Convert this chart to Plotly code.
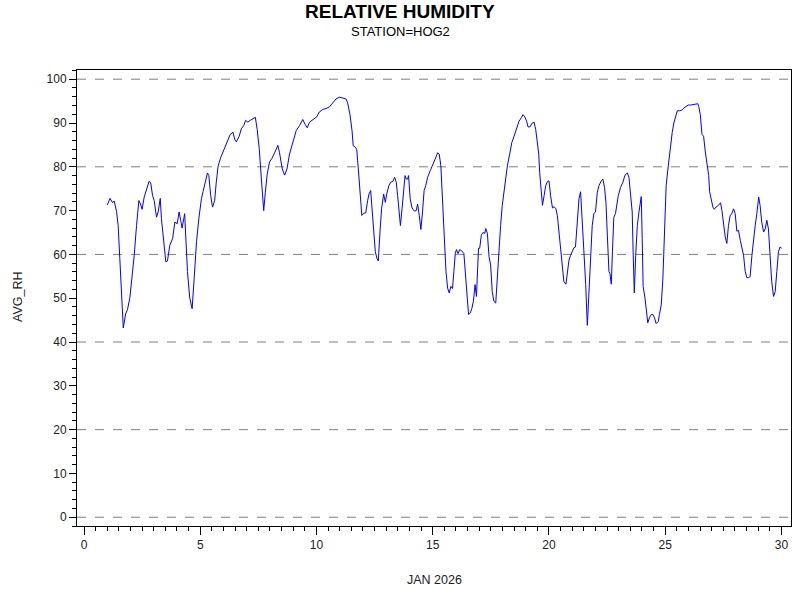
import plotly.graph_objects as go

day = [
    1.00, 1.12, 1.23, 1.30, 1.40, 1.47, 1.54, 1.62, 1.69, 1.79, 1.87, 1.97, 2.07, 2.16, 2.26, 2.36, 2.43, 2.50,
    2.59, 2.69, 2.80, 2.87, 2.95, 3.02, 3.12, 3.19, 3.28, 3.33, 3.43, 3.52, 3.59, 3.69, 3.81, 3.91, 4.01, 4.09,
    4.16, 4.22, 4.33, 4.45, 4.55, 4.65, 4.74, 4.84, 4.94, 4.98, 5.05, 5.12, 5.22, 5.31, 5.37, 5.45, 5.53, 5.62,
    5.69, 5.77, 5.88, 5.98, 6.08, 6.19, 6.29, 6.41, 6.48, 6.55, 6.67, 6.77, 6.87, 6.95, 7.05, 7.15, 7.27, 7.37,
    7.45, 7.54, 7.63, 7.73, 7.80, 7.88, 7.98, 8.08, 8.20, 8.34, 8.41, 8.53, 8.63, 8.73, 8.84, 8.99, 9.13, 9.27,
    9.41, 9.51, 9.60, 9.70, 9.81, 9.91, 10.01, 10.12, 10.27, 10.41, 10.56, 10.70, 10.84, 10.99, 11.13, 11.27,
    11.34, 11.44, 11.53, 11.58, 11.67, 11.73, 11.80, 11.89, 11.95, 12.03, 12.12, 12.20, 12.26, 12.33, 12.39,
    12.46, 12.53, 12.60, 12.66, 12.73, 12.80, 12.89, 12.96, 13.03, 13.12, 13.20, 13.29, 13.36, 13.43, 13.49,
    13.55, 13.61, 13.68, 13.75, 13.81, 13.86, 13.92, 13.96, 14.03, 14.11, 14.21, 14.29, 14.35, 14.42, 14.49,
    14.56, 14.63, 14.70, 14.78, 14.89, 14.99, 15.09, 15.21, 15.28, 15.35, 15.42, 15.49, 15.57, 15.64, 15.71,
    15.78, 15.85, 15.91, 15.97, 16.02, 16.09, 16.16, 16.25, 16.34, 16.39, 16.46, 16.54, 16.61, 16.68, 16.75,
    16.82, 16.88, 16.92, 16.97, 17.02, 17.09, 17.16, 17.24, 17.28, 17.35, 17.42, 17.49, 17.56, 17.63, 17.71,
    17.78, 17.85, 17.92, 17.99, 18.06, 18.14, 18.21, 18.31, 18.40, 18.50, 18.61, 18.71, 18.81, 18.88, 18.96,
    19.04, 19.10, 19.18, 19.28, 19.36, 19.43, 19.50, 19.56, 19.60, 19.66, 19.72, 19.79, 19.86, 19.93, 20.00,
    20.07, 20.15, 20.22, 20.30, 20.36, 20.43, 20.50, 20.57, 20.64, 20.73, 20.79, 20.86, 20.93, 21.00, 21.07,
    21.14, 21.22, 21.29, 21.36, 21.43, 21.50, 21.58, 21.65, 21.72, 21.79, 21.86, 21.93, 22.00, 22.08, 22.15,
    22.25, 22.32, 22.39, 22.45, 22.51, 22.58, 22.62, 22.68, 22.73, 22.79, 22.86, 22.98, 23.08, 23.18, 23.27,
    23.37, 23.44, 23.51, 23.58, 23.62, 23.67, 23.73, 23.80, 23.87, 23.93, 23.97, 24.01, 24.05, 24.13, 24.20,
    24.25, 24.32, 24.40, 24.47, 24.54, 24.61, 24.70, 24.75, 24.83, 24.90, 24.97, 25.04, 25.13, 25.23, 25.30,
    25.37, 25.45, 25.52, 25.62, 25.70, 25.80, 25.90, 25.99, 26.09, 26.19, 26.30, 26.40, 26.44, 26.51, 26.58,
    26.65, 26.72, 26.79, 26.87, 26.91, 26.98, 27.05, 27.11, 27.18, 27.25, 27.32, 27.38, 27.44, 27.51, 27.58,
    27.65, 27.72, 27.79, 27.87, 27.94, 28.01, 28.08, 28.15, 28.23, 28.30, 28.37, 28.44, 28.51, 28.58, 28.65,
    28.73, 28.80, 28.87, 28.94, 29.02, 29.08, 29.15, 29.23, 29.30, 29.37, 29.44, 29.51, 29.58, 29.66, 29.73,
    29.80, 29.87, 29.94, 30.01,
]

avg_rh = [
    71.3, 72.8, 71.8, 72.2, 69.8, 66.6, 59.1, 49.3, 43.2, 46.4, 47.4, 50.0, 54.6, 59.8, 66.6, 72.3, 71.5, 70.3,
    73.1, 74.9, 76.7, 76.3, 73.4, 72.3, 68.5, 69.7, 72.8, 68.2, 62.1, 58.3, 58.5, 62.1, 63.6, 67.4, 67.0, 69.7,
    67.8, 66.0, 69.3, 56.1, 50.0, 47.6, 54.6, 62.9, 68.2, 70.0, 72.7, 74.3, 76.5, 78.6, 78.0, 73.4, 70.8, 72.3,
    76.5, 80.2, 82.1, 83.4, 84.6, 86.3, 87.4, 87.9, 86.3, 85.7, 86.9, 88.7, 89.4, 90.6, 90.2, 90.6, 90.9, 91.3,
    88.5, 84.0, 77.2, 70.0, 74.2, 78.3, 81.1, 81.9, 83.2, 84.9, 83.2, 79.5, 78.1, 79.5, 82.9, 85.5, 88.3, 89.4,
    90.8, 89.7, 88.9, 90.2, 90.6, 90.9, 91.4, 92.5, 93.1, 93.3, 93.7, 94.6, 95.5, 95.9, 95.7, 95.5,
    94.6, 91.9, 88.2, 84.8, 84.5, 84.0, 79.5, 73.4, 68.9, 69.4, 69.5, 72.3, 73.8, 74.6, 70.4,
    65.1, 60.6, 59.1, 58.5, 65.1, 70.4, 73.8, 71.9, 74.0, 75.8, 76.5, 76.7, 77.6, 76.5, 73.4,
    68.9, 66.6, 70.4, 75.7, 78.0, 77.2, 77.2, 78.0, 72.7, 70.6, 69.9, 70.0, 71.5, 68.9, 65.7,
    69.7, 74.6, 75.7, 77.6, 79.1, 80.2, 81.6, 83.2, 82.9, 80.2, 71.9, 62.9, 56.1, 52.3, 51.2,
    52.7, 52.2, 56.1, 60.2, 61.1, 60.2, 61.1, 60.8, 60.2, 56.8, 51.5, 46.3, 46.6, 47.6, 49.3,
    53.1, 50.4, 56.1, 61.4, 61.4, 64.4, 65.0, 64.8, 65.9, 64.8, 59.5, 57.6, 51.5, 49.3, 48.9,
    55.3, 62.1, 66.6, 71.2, 74.2, 77.6, 80.2, 82.9, 85.5, 87.0, 88.9, 90.4, 91.2, 91.9, 91.4,
    90.4, 89.1, 89.1, 90.0, 90.2, 88.5, 85.5, 82.9, 78.7, 74.2, 71.2, 73.4, 75.7, 76.6, 76.8,
    73.4, 70.6, 70.9, 70.4, 68.9, 65.1, 61.4, 58.3, 53.8, 53.2, 56.1, 58.7, 59.8, 60.6, 61.5,
    61.7, 68.2, 72.7, 74.3, 68.2, 60.6, 53.1, 43.8, 51.5, 60.6, 66.6, 69.3, 69.7, 74.2, 75.7,
    76.8, 77.2, 75.3, 71.9, 64.4, 56.1, 55.7, 53.2, 60.6, 68.5, 69.3, 73.4, 75.3, 76.5, 78.1,
    78.6, 77.6, 74.2, 69.7, 60.6, 51.2, 59.8, 66.6, 69.7, 72.7, 73.2, 63.6, 52.7, 50.0, 46.3,
    44.4, 45.5, 46.3, 46.3, 45.5, 44.2, 44.7, 46.3, 48.5, 54.6, 65.9, 75.7, 80.2, 85.5, 87.8,
    90.0, 91.9, 92.8, 92.8, 92.9, 93.4, 93.8, 94.1, 94.1, 94.2, 94.3, 94.4, 93.8, 91.9, 87.4,
    87.0, 83.6, 80.6, 78.0, 74.3, 72.7, 70.8, 70.3, 70.8, 71.0, 71.5, 71.8, 70.0, 66.3, 64.0,
    62.5, 66.6, 68.8, 69.4, 70.4, 69.3, 65.3, 65.5, 63.2, 61.7, 59.8, 56.1, 54.7, 54.7, 54.9,
    59.8, 64.0, 66.6, 69.3, 73.1, 71.2, 67.4, 65.1, 65.8, 67.8, 65.8, 59.8, 53.8, 50.4, 51.5,
    56.1, 60.6, 61.7, 61.4,
]

x_ticks = [0, 5, 10, 15, 20, 25, 30]
y_ticks = [0, 10, 20, 30, 40, 50, 60, 70, 80, 90, 100]
grid_levels = [0, 20, 40, 60, 80, 100]

title_text = "RELATIVE HUMIDITY"
subtitle_text = "STATION=HOG2"
x_title = "JAN 2026"
y_title = "AVG_RH"

FONT = "Liberation Sans, Arial, sans-serif"
TXT = "#222222"

W, H = 800, 600
PL, PR, PT, PB = 77, 791, 70, 526   # plot area in page pixels
pw, ph = PR - PL, PB - PT


def px(xp):
    return (xp - PL) / pw


def py(yp):
    return (PB - yp) / ph


fig = go.Figure()
fig.add_trace(go.Scatter(x=day, y=avg_rh, mode="lines",
                         line=dict(color="#0000FF", width=1), showlegend=False,
                         hoverinfo="skip"))

for g in grid_levels:
    fig.add_shape(type="line", xref="paper", x0=0, x1=1, yref="y", y0=g, y1=g,
                  line=dict(color="#808080", width=1, dash="dash"), layer="below")

fig.update_layout(
    width=W, height=H,
    margin=dict(l=PL, r=W - PR, t=PT, b=H - PB, autoexpand=False),
    paper_bgcolor="white", plot_bgcolor="white",
    font=dict(family=FONT, size=12, color=TXT),
    hovermode=False,
    annotations=[
        dict(text="<b>" + title_text + "</b>", x=px(400), xref="paper", y=py(11), yref="paper",
             xanchor="center", yanchor="middle", showarrow=False,
             font=dict(size=19, family=FONT, color="black")),
        dict(text=subtitle_text, x=px(400), xref="paper", y=py(31), yref="paper",
             xanchor="center", yanchor="middle", showarrow=False,
             font=dict(size=13, family=FONT, color="black")),
        dict(text=x_title, x=0.5, xref="paper", y=py(580), yref="paper",
             xanchor="center", yanchor="middle", showarrow=False,
             font=dict(size=12.5, family=FONT, color=TXT)),
        dict(text=y_title, x=px(18), xref="paper", y=py(297), yref="paper",
             xanchor="center", yanchor="middle", textangle=-90, showarrow=False,
             font=dict(size=12.5, family=FONT, color=TXT)),
    ],
)

fig.update_xaxes(range=[-0.301, 30.41], tickmode="array", tickvals=x_ticks,
                 ticks="outside", ticklen=8, tickwidth=1, tickcolor="black",
                 showline=True, linecolor="black", linewidth=1, mirror=True,
                 showgrid=False, zeroline=False,
                 minor=dict(dtick=0.5, tick0=0, ticks="outside", ticklen=4, tickcolor="black", showgrid=False),
                 tickfont=dict(size=12, family=FONT, color=TXT))
fig.update_yaxes(range=[-2.0, 102.1], tickmode="array", tickvals=y_ticks,
                 ticks="outside", ticklen=7, tickwidth=1, tickcolor="black",
                 showline=True, linecolor="black", linewidth=1, mirror=True,
                 showgrid=False, zeroline=False,
                 minor=dict(dtick=2, tick0=0, ticks="outside", ticklen=4, tickcolor="black", showgrid=False),
                 tickfont=dict(size=12, family=FONT, color=TXT))

# remove the default 8px page margin so the figure fills the window exactly
fig.write_html("out.html", config={"displayModeBar": False},
               post_script="document.body.style.margin='0px';document.body.style.overflow='hidden';")
